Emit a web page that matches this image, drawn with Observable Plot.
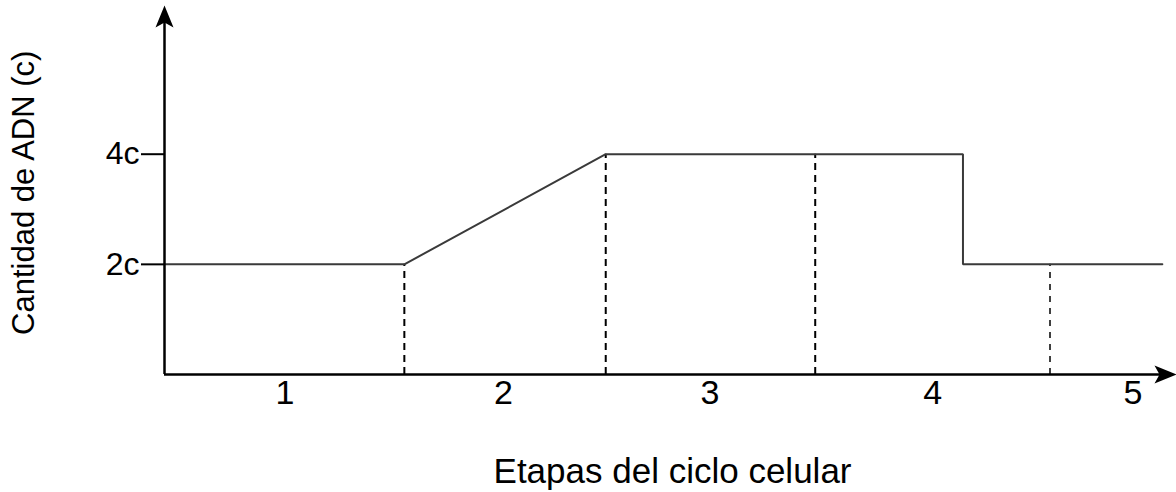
<!DOCTYPE html>
<html>
<head>
<meta charset="utf-8">
<script src="https://cdn.jsdelivr.net/npm/d3@7"></script>
<script src="https://cdn.jsdelivr.net/npm/@observablehq/plot@0.6"></script>
<style>
  html, body { margin: 0; padding: 0; background: #fff; }
  #chart { width: 1176px; height: 492px; }
</style>
</head>
<body>
<div id="chart"></div>
<script>
// Position along the cycle (0–100 arbitrary units) and DNA amount (in c)
const curveX = [0, 23.7, 43.6, 78.9, 78.9, 98.6];
const curveY = [2, 2, 4, 4, 2, 2];

// Stage boundaries (dashed lines): position and the DNA level they reach
const boundaryX = [23.7, 43.6, 64.3, 87.5];
const boundaryTop = [2, 4, 4, 2];

// Stage labels
const stageLabels = ["1", "2", "3", "4", "5"];
const stageX = [11.9, 33.5, 53.9, 75.9, 95.7];

// Y tick values and labels
const yTicks = [2, 4];
const yTickLabels = ["2c", "4c"];

const xMax = 100, yMax = 6.7;

const curve = curveX.map((x, i) => ({x, y: curveY[i]}));
const boundaries = boundaryX.map((x, i) => ({x, top: boundaryTop[i], thin: i === 3}));

const arrowUp = {draw(ctx) { ctx.moveTo(0, 0); ctx.lineTo(9, 22); ctx.lineTo(0, 17); ctx.lineTo(-9, 22); ctx.closePath(); }};
const arrowRight = {draw(ctx) { ctx.moveTo(0, 0); ctx.lineTo(-22, -9); ctx.lineTo(-17, 0); ctx.lineTo(-22, 9); ctx.closePath(); }};

const font = "'Liberation Sans', Arial, sans-serif";

const chart = Plot.plot({
  width: 1176,
  height: 492,
  marginLeft: 164,
  marginRight: 0,
  marginTop: 5,
  marginBottom: 118,
  style: {fontFamily: font, background: "#fff", color: "#000", overflow: "visible"},
  x: {type: "linear", domain: [0, xMax], axis: null},
  y: {type: "linear", domain: [0, yMax], axis: null},
  marks: [
    // dashed boundaries
    Plot.ruleX(boundaries.filter(d => !d.thin), {x: "x", y1: 0, y2: "top", stroke: "#000", strokeWidth: 2, strokeDasharray: "7,5"}),
    Plot.ruleX(boundaries.filter(d => d.thin), {x: "x", y1: 0, y2: "top", stroke: "#000", strokeWidth: 1.5, strokeDasharray: "6,6"}),
    // DNA curve
    Plot.line(curve, {x: "x", y: "y", stroke: "#3a3a3a", strokeWidth: 2, strokeLinejoin: "miter"}),
    // axes lines
    Plot.ruleX([0], {y1: 0, y2: yMax - 0.2, stroke: "#000", strokeWidth: 2.5}),
    Plot.ruleY([0], {x1: 0, x2: xMax - 0.8, stroke: "#000", strokeWidth: 2.5}),
    Plot.dot([{x: 0, y: yMax}], {x: "x", y: "y", symbol: arrowUp, fill: "#000", stroke: "none"}),
    Plot.dot([{x: xMax, y: 0}], {x: "x", y: "y", symbol: arrowRight, fill: "#000", stroke: "none"}),
    // y ticks
    Plot.axisY(yTicks, {anchor: "left", tickSize: 23, tickPadding: 2, tickFormat: d => yTickLabels[yTicks.indexOf(d)], fontSize: 32, stroke: "#000", strokeWidth: 2, fill: "#000"}),
    // stage labels
    Plot.text(stageLabels, {x: (d, i) => stageX[i], y: 0, text: d => d, dy: 19, fontSize: 34, fill: "#000", lineAnchor: "middle"}),
    // axis titles
    Plot.text(["Etapas del ciclo celular"], {x: 50.2, y: 0, dy: 97, text: d => d, fontSize: 35, fill: "#000", lineAnchor: "middle"}),
    Plot.text(["Cantidad de ADN (c)"], {frameAnchor: "left", y: 3.3, dx: -140, text: d => d, rotate: -90, textAnchor: "middle", lineAnchor: "middle", fontSize: 31, fill: "#000"})
  ]
});
document.getElementById("chart").appendChild(chart);
</script>
</body>
</html>
